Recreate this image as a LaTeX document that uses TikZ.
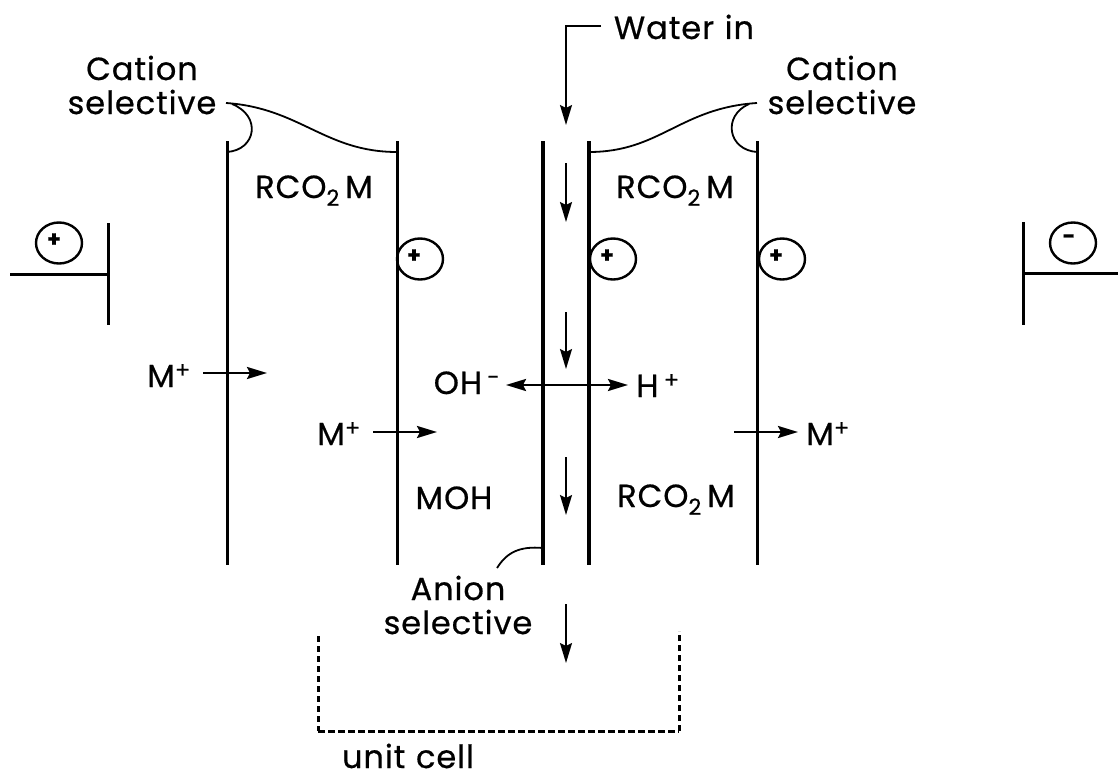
\documentclass[tikz,border=0pt]{standalone}
\usepackage{fontspec}
\setmainfont{Poppins}[FakeBold=0.6, LetterSpace=3]
\usepackage{tikz}
\usetikzlibrary{arrows.meta, positioning, shapes.geometric}

\begin{document}
\begin{tikzpicture}[
  x=1pt, y=-1pt,
  font=\fontsize{32}{34}\selectfont,
  membrane/.style={line width=3pt},
  thinline/.style={line width=1.8pt},
  arrow/.style={-{Stealth[length=20pt,width=12pt,inset=3pt]}, line width=2pt},
  flatarrow/.style={arrow, line width=2.4pt},
  dblarrow/.style={{Stealth[length=20pt,width=12pt,inset=3pt]}-{Stealth[length=20pt,width=12pt,inset=3pt]}, line width=2.4pt},
  label/.style={inner sep=0pt, align=center},
  formula/.style={inner sep=0pt, anchor=base},
  ion/.style={draw, ellipse, line width=2.4pt, minimum width=46pt, minimum height=41pt, inner sep=0pt},
  sign/.style={inner sep=0pt, font=\fontsize{22}{22}\bfseries\selectfont},
  cellline/.style={line width=3pt, dash pattern=on 6pt off 4pt}
]
\useasboundingbox (0,0) rectangle (1118,773);

% membranes
\coordinate (m1top) at (227,141);  \coordinate (m1bot) at (227,565);
\coordinate (m2top) at (397,141);  \coordinate (m2bot) at (397,565);
\coordinate (m3top) at (543,141);  \coordinate (m3bot) at (543,565);
\coordinate (m4top) at (589,141);  \coordinate (m4bot) at (589,565);
\coordinate (m5top) at (757,141);  \coordinate (m5bot) at (757,565);
\draw[membrane] (m1top) -- (m1bot);
\draw[membrane] (m2top) -- (m2bot);
\draw[membrane, line width=4pt] (m3top) -- (m3bot);
\draw[membrane, line width=3.5pt] (m4top) -- (m4bot);
\draw[membrane] (m5top) -- (m5bot);

% electrodes
\coordinate (anodetop) at (108,223);  \coordinate (anodebot) at (108,325);
\coordinate (anodemid) at (108,274);  \coordinate (anodewire) at (10,274);
\coordinate (cathtop) at (1023,222);  \coordinate (cathbot) at (1023,325);
\coordinate (cathmid) at (1023,273);  \coordinate (cathwire) at (1118,273);
\draw[membrane] (anodetop) -- (anodebot);
\draw[membrane] (anodemid) -- (anodewire);
\draw[membrane] (cathtop) -- (cathbot);
\draw[membrane] (cathmid) -- (cathwire);

% charges
\node[ion] (anodeion) at (59,243) {};
\node[ion] (cathion) at (1073,243) {};
\node[ion] (ion1) at (420,259) {};
\node[ion] (ion2) at (613,259) {};
\node[ion] (ion3) at (782,259) {};
\node[sign] (anodesign) at (54,240) {+};
\node[sign] (cathsign) at (1069,239) {-};
\node[sign] (sign1) at (414,256) {+};
\node[sign] (sign2) at (607,256) {+};
\node[sign] (sign3) at (776,256) {+};

% labels
\node[label] (cation1) at (142,85) {Cation\\selective};
\node[label] (cation2) at (842,85) {Cation\\selective};
\node[label] (anion) at (458,605) {Anion\\selective};
\node[formula] (water) at (684,39) {Water\,\,in};
\node[formula] (salt1) at (314,198) {RCO\textsubscript{2}\,M};
\node[formula] (salt2) at (675,198) {RCO\textsubscript{2}\,M};
\node[formula] (salt3) at (676,507) {RCO\textsubscript{2}\,M};
\node[formula] (base) at (454,509) {MOH};
\node[formula] (cat1) at (169,387) {M\textsuperscript{+}};
\node[formula] (cat2) at (339,445) {M\textsuperscript{+}};
\node[formula] (cat3) at (828,445) {M\textsuperscript{+}};
\node[formula] (hydroxide) at (467,394) {OH\,\textsuperscript{-}};
\node[formula] (proton) at (658,397) {H\,\textsuperscript{+}};
\node[formula] (unit) at (408,768) {unit\,\,cell};

% leaders to the membranes
\coordinate (lead1) at (226,103);
\coordinate (lead1b) at (232,104);
\coordinate (lead2) at (757,103);
\coordinate (lead2b) at (749,104);
\coordinate (m1tick) at (227,152);
\coordinate (m2tick) at (397,152);
\coordinate (m4tick) at (589,152);
\coordinate (m5tick) at (757,152);
\coordinate (m3tick) at (543,548);
\coordinate (leadanion) at (497,568);
\draw[thinline] (lead1) .. controls (300,108) and (325,152) .. (m2tick);
\draw[thinline] (lead1b) .. controls (262,116) and (256,150) .. (m1tick);
\draw[thinline] (lead2) .. controls (680,108) and (660,152) .. (m4tick);
\draw[thinline] (lead2b) .. controls (722,116) and (728,150) .. (m5tick);
\draw[thinline] (m3tick) .. controls (520,546) and (507,552) .. (leadanion);

% flows
\coordinate (wa) at (601,26);
\coordinate (wb) at (566,26);
\coordinate (wc) at (566,125);
\draw[arrow] (wa) -- (wb) -- (wc);
\foreach \name/\ya/\yb in {f1/163/222, f2/312/369, f3/457/515, f4/604/663} {
  \coordinate (\name a) at (566,\ya);
  \coordinate (\name b) at (566,\yb);
  \draw[arrow] (\name a) -- (\name b);
}
\coordinate (p1a) at (203,373);  \coordinate (p1b) at (267,373);
\coordinate (p2a) at (373,432);  \coordinate (p2b) at (437,432);
\coordinate (p3a) at (734,432);  \coordinate (p3b) at (798,432);
\coordinate (oh) at (506,385);   \coordinate (hp) at (628,385);
\draw[flatarrow] (p1a) -- (p1b);
\draw[flatarrow] (p2a) -- (p2b);
\draw[flatarrow] (p3a) -- (p3b);
\draw[dblarrow] (oh) -- (hp);

% unit cell bracket
\coordinate (ua) at (318,636);  \coordinate (ub) at (318,731);
\coordinate (uc) at (679,731);  \coordinate (ud) at (679,631);
\draw[cellline] (ua) -- (ub);
\draw[cellline, dash pattern=on 7pt off 3pt] (ub) -- (uc);
\draw[cellline] (uc) -- (ud);
\end{tikzpicture}
\end{document}
